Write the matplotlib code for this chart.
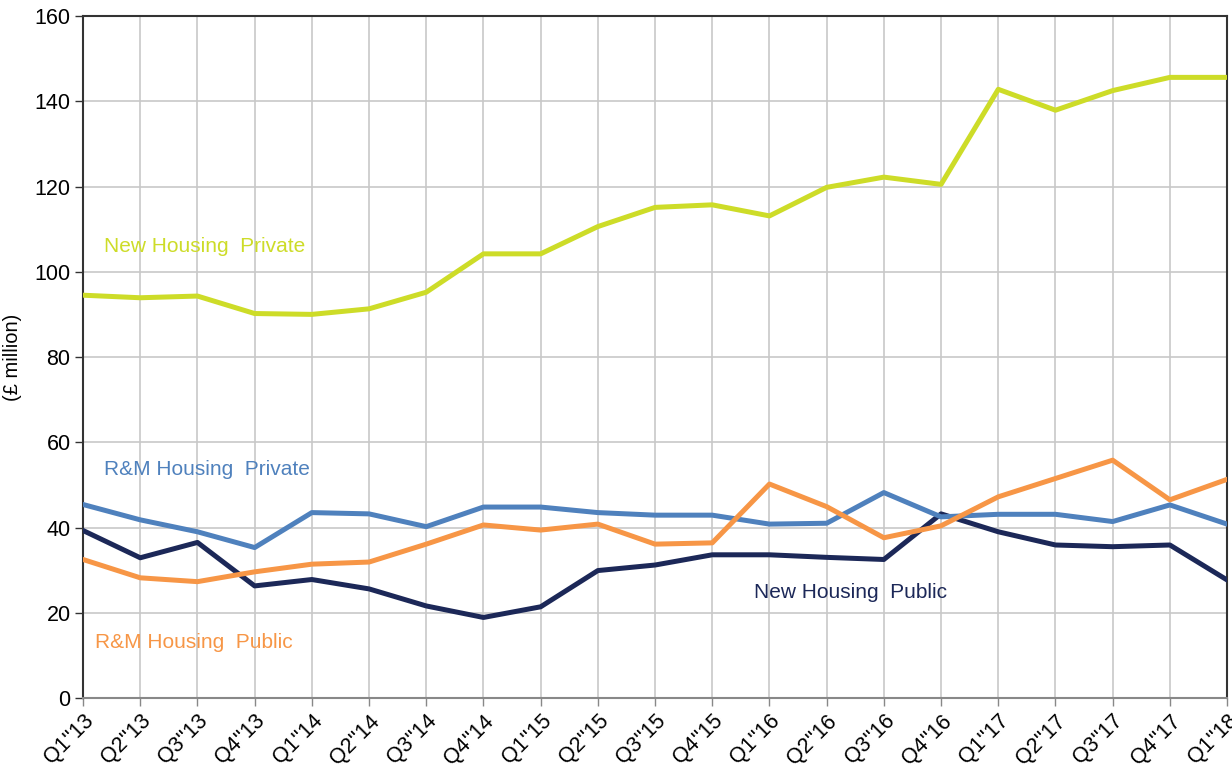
import matplotlib
matplotlib.use("Agg")
import matplotlib.pyplot as plt

plt.rcParams["font.family"] = ["Liberation Sans", "DejaVu Sans"]

quarters = ["Q1''13", "Q2''13", "Q3''13", "Q4''13", "Q1''14", "Q2''14", "Q3''14",
            "Q4''14", "Q1''15", "Q2''15", "Q3''15", "Q4''15", "Q1''16", "Q2''16",
            "Q3''16", "Q4''16", "Q1''17", "Q2''17", "Q3''17", "Q4''17", "Q1''18"]

new_private = [94.5, 93.9, 94.3, 90.2, 90.0, 91.3, 95.2, 104.2, 104.2, 110.6,
               115.1, 115.7, 113.1, 119.8, 122.2, 120.5, 142.8, 137.9, 142.5,
               145.6, 145.6]
rm_private = [45.4, 41.8, 39.0, 35.3, 43.5, 43.2, 40.2, 44.8, 44.8, 43.5,
              42.9, 42.9, 40.8, 41.0, 48.2, 42.5, 43.1, 43.1, 41.4, 45.3, 40.8]
new_public = [39.3, 32.9, 36.5, 26.3, 27.8, 25.6, 21.6, 18.9, 21.4, 29.9,
              31.2, 33.6, 33.6, 33.0, 32.5, 43.2, 39.0, 35.9, 35.5, 35.9, 27.7]
rm_public = [32.5, 28.2, 27.3, 29.6, 31.4, 31.9, 36.1, 40.6, 39.4, 40.8,
             36.1, 36.4, 50.2, 44.9, 37.6, 40.4, 47.2, 51.5, 55.8, 46.5, 51.3]

c_new_private = "#CDDC28"
c_rm_private = "#4F81BD"
c_new_public = "#1C2858"
c_rm_public = "#F79646"

fig = plt.figure(figsize=(12.32, 7.69), dpi=100)
ax = fig.add_axes([0.0674, 0.0923, 0.9286, 0.8869])

x = list(range(len(quarters)))
lw = 3.6
ax.plot(x, new_public, color=c_new_public, lw=lw, zorder=3)
ax.plot(x, rm_private, color=c_rm_private, lw=lw, zorder=4)
ax.plot(x, rm_public, color=c_rm_public, lw=lw, zorder=5)
ax.plot(x, new_private, color=c_new_private, lw=lw, zorder=6)

ax.set_xlim(0, len(quarters) - 1)
ax.set_ylim(0, 160)
ax.set_yticks(range(0, 161, 20))
ax.set_xticks(x)
ax.set_xticklabels(quarters, rotation=45, ha="right", rotation_mode="anchor",
                   fontsize=15.5)
ax.tick_params(axis="y", labelsize=15.5, length=6, width=1, color="#333333",
               pad=3)
ax.tick_params(axis="x", length=6, width=1, color="#888888", pad=3)

ax.grid(True, color="#C8C8C8", lw=1.2)
ax.set_axisbelow(True)
for side in ("left", "top", "right"):
    ax.spines[side].set_color("#333333")
    ax.spines[side].set_linewidth(1.5)
ax.spines["bottom"].set_color("#888888")
ax.spines["bottom"].set_linewidth(1.5)

ax.set_ylabel("(£ million)", fontsize=14.5, labelpad=9)

# series labels placed inside the plot
ax.text(0.37, 106, "New Housing  Private", color=c_new_private, fontsize=15,
        va="center")
ax.text(0.36, 53.5, "R&M Housing  Private", color=c_rm_private, fontsize=15,
        va="center")
ax.text(11.73, 24.8, "New Housing  Public", color=c_new_public, fontsize=15,
        va="center")
ax.text(0.21, 13, "R&M Housing  Public", color=c_rm_public, fontsize=15,
        va="center")

fig.savefig("out.png", dpi=100)
